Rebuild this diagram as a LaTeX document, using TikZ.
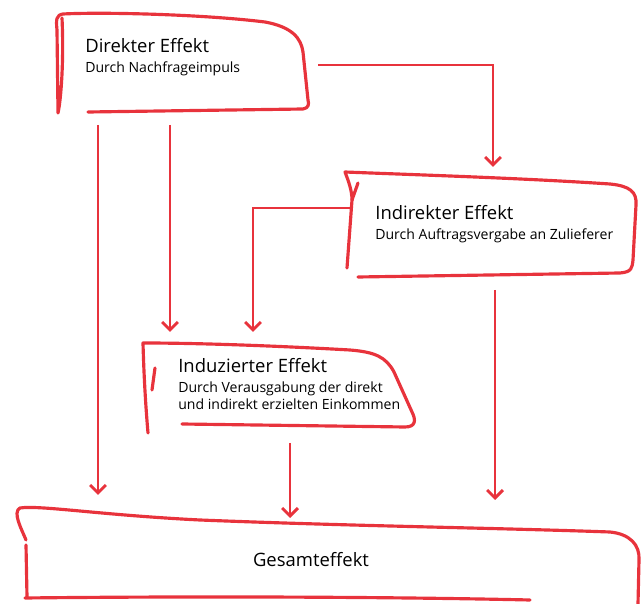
\documentclass[tikz,border=0pt]{standalone}
\usepackage{fontspec}
\setmainfont{Open Sans}
\usepackage{tikz}
\usetikzlibrary{arrows.meta, positioning, calc, fit}
\definecolor{penred}{HTML}{E8333C}

\begin{document}
\begin{tikzpicture}[x=0.02cm, y=-0.02cm,
    hand/.style={draw=penred, line width=1.8pt, line cap=round, line join=round},
    arr/.style={penred, line width=1.7pt, -{Straight Barb[length=4.5pt, width=9pt, line width=1.7pt]}},
    area/.style={inner sep=0pt, outer sep=0pt},
    title/.style={font=\fontsize{10.5}{12}\selectfont, inner sep=0pt, anchor=base west},
    desc/.style={font=\fontsize{8}{9.8}\selectfont, inner sep=0pt, align=left}]
    \useasboundingbox (0,0) rectangle (643,604);

    % areas of the four boxes
    \node[area, fit={(50,14) (310,112)}] (dir) {};
    \node[area, fit={(343,170) (636,278)}] (ind) {};
    \node[area, fit={(143,340) (415,432)}] (induz) {};
    \node[area, fit={(14,505) (640,600)}] (ges) {};

    % hand drawn outlines
    \draw[hand] (88,112) -- (303,109) .. controls (309,108) and (309,104) .. (308,100) -- (303,52)
        .. controls (301,38) and (292,27) .. (265,22) .. controls (200,14) and (100,12) .. (63,14)
        .. controls (56,15) and (56,20) .. (57,30) -- (58,113) .. controls (61,100) and (64,60) .. (62,18);
    \draw[hand] (358,277) -- (620,273) .. controls (632,272) and (632,268) .. (633,260) -- (636,205)
        .. controls (637,192) and (630,186) .. (610,184) .. controls (520,178) and (420,175) .. (345,172)
        .. controls (348,180) and (352,190) .. (352,200) -- (347,268);
    \draw[hand] (358,183) -- (352,200);
    \draw[hand] (182,424) -- (405,427) .. controls (416,427) and (416,420) .. (412,412) -- (394,372)
        .. controls (386,357) and (375,352) .. (350,350) .. controls (280,346) and (200,343) .. (143,343)
        .. controls (144,380) and (146,410) .. (148,433);
    \draw[hand] (155,368) -- (152,390);
    \draw[hand] (26,540) .. controls (22,530) and (12,512) .. (20,508) .. controls (40,505) and (100,515) .. (200,520)
        .. controls (350,526) and (500,528) .. (610,532) .. controls (630,534) and (640,545) .. (639,560) -- (638,604);
    \draw[hand] (27,597) -- (26,545);
    \draw[hand] (25,598) .. controls (200,596) and (400,597) .. (530,600);

    % texts
    \node[title] (dirt) at (85,53) {Direkter Effekt};
    \node[desc, below right=4.5pt and 0pt of dirt.south west] (dird) {Durch Nachfrageimpuls};
    \node[title] (indt) at (375,220) {Indirekter Effekt};
    \node[desc, below right=4.5pt and 0pt of indt.south west] (indd) {Durch Auftragsvergabe an Zulieferer};
    \node[title] (induzt) at (178,373) {Induzierter Effekt};
    \node[desc, below right=4.5pt and 0pt of induzt.south west] (induzd) {Durch Verausgabung der direkt\\und indirekt erzielten Einkommen};
    \node[title, anchor=base] (gest) at (311,567) {Gesamteffekt};

    % connectors
    \draw[arr] ($(dir.south west)+(48,13)$) -- ($(ges.north west)+(84,-10)$);
    \draw[arr] ($(dir.south west)+(120,13)$) -- ($(induz.north west)+(27,-8)$);
    \draw[arr] ($(dir.east)+(8,2)$) -| ($(ind.north west)+(150,-3)$);
    \draw[arr] ($(ind.west)+(8,-16)$) -| ($(induz.north west)+(110,-8)$);
    \draw[arr] ($(ind.south west)+(152,12)$) -- ($(ges.north west)+(481,-5)$);
    \draw[arr] ($(induz.south west)+(147,11)$) -- ($(ges.north west)+(276,13)$);
  \end{tikzpicture}
\end{document}
